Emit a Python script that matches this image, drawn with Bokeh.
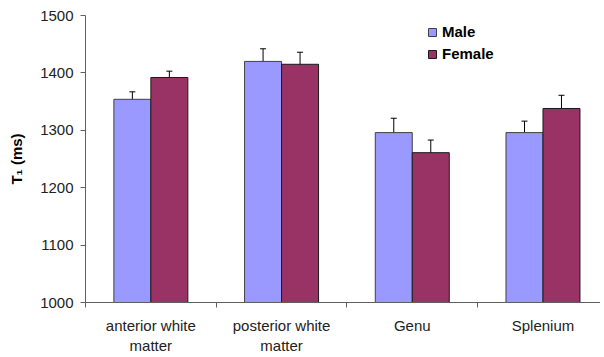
from bokeh.plotting import figure
from bokeh.models import (Range1d, FixedTicker, ColumnDataSource, Whisker, TeeHead,
                          Legend, LegendItem)
from bokeh.embed import file_html
from bokeh.resources import INLINE
import numpy as np

categories = ["anterior white\nmatter", "posterior white\nmatter", "Genu", "Splenium"]
male = [1354, 1420, 1296, 1296]
male_err = [13, 22, 25, 20]
female = [1392, 1415, 1261, 1338]
female_err = [11, 21, 22, 23]
y_ticks = [1000, 1100, 1200, 1300, 1400, 1500]

MALE_COLOR = "#9999FF"
FEMALE_COLOR = "#993366"
FONT = "Liberation Sans"

bar_w = 0.283
idx = np.arange(len(categories))
centers = idx + 0.5

p = figure(width=600, height=357, output_backend="svg", toolbar_location=None,
           x_range=Range1d(0, 3.94), y_range=Range1d(1000, 1500),
           min_border_left=85, min_border_right=0, min_border_top=15, min_border_bottom=55)
p.outline_line_color = None
p.xgrid.visible = False
p.ygrid.visible = False
p.background_fill_color = "white"
p.border_fill_color = "white"

src_m = ColumnDataSource(dict(x=centers - bar_w / 2, top=male,
                              lo=np.array(male) - np.array(male_err),
                              hi=np.array(male) + np.array(male_err)))
src_f = ColumnDataSource(dict(x=centers + bar_w / 2, top=female,
                              lo=np.array(female) - np.array(female_err),
                              hi=np.array(female) + np.array(female_err)))

rm = p.vbar(x="x", top="top", bottom=1000, width=bar_w, source=src_m,
            fill_color=MALE_COLOR, line_color="#404040", line_width=1)
rf = p.vbar(x="x", top="top", bottom=1000, width=bar_w, source=src_f,
            fill_color=FEMALE_COLOR, line_color="#1a1a1a", line_width=1)

for src in (src_m, src_f):
    w = Whisker(base="x", lower="lo", upper="hi", source=src,
                line_color="black", line_width=1,
                upper_head=TeeHead(size=6, line_color="black", line_width=1),
                lower_head=TeeHead(size=6, line_color="black", line_width=1))
    p.add_layout(w)

# x axis: labels at category centres, ticks at category boundaries
xa = p.xaxis[0]
xa.ticker = FixedTicker(ticks=list(centers), minor_ticks=list(np.arange(len(categories) + 1)))
xa.major_label_overrides = {float(c): lab for c, lab in zip(centers, categories)}
xa.major_tick_line_color = None
xa.minor_tick_line_color = "#606060"
xa.minor_tick_out = 5
xa.minor_tick_in = 0
xa.axis_line_color = "#606060"
xa.major_label_text_font = FONT
xa.major_label_text_font_size = "15px"
xa.major_label_text_color = "#222222"
xa.major_label_standoff = 8

ya = p.yaxis[0]
ya.ticker = FixedTicker(ticks=y_ticks)
ya.minor_tick_line_color = None
ya.major_tick_out = 5
ya.major_tick_in = 0
ya.major_tick_line_color = "#606060"
ya.axis_line_color = "#606060"
ya.major_label_text_font = FONT
ya.major_label_text_font_size = "15px"
ya.major_label_text_color = "#222222"
ya.major_label_standoff = 7
ya.axis_label = "T\u2081 (ms)"
ya.axis_label_text_font = FONT
ya.axis_label_text_font_size = "15px"
ya.axis_label_text_font_style = "bold"
ya.axis_label_text_color = "black"
ya.axis_label_standoff = 12

legend = Legend(items=[LegendItem(label="Male", renderers=[rm]),
                       LegendItem(label="Female", renderers=[rf])],
                location=(342, 240), orientation="vertical")
legend.glyph_width = 10
legend.glyph_height = 10
legend.label_height = 10
legend.spacing = 5
legend.padding = 0
legend.margin = 0
legend.label_standoff = 5
legend.label_text_font = FONT
legend.label_text_font_size = "15px"
legend.label_text_font_style = "bold"
legend.label_text_color = "black"
legend.border_line_color = None
legend.background_fill_alpha = 0
legend.label_text_baseline = "middle"
p.add_layout(legend)

open("out.html", "w").write(file_html(p, INLINE))
